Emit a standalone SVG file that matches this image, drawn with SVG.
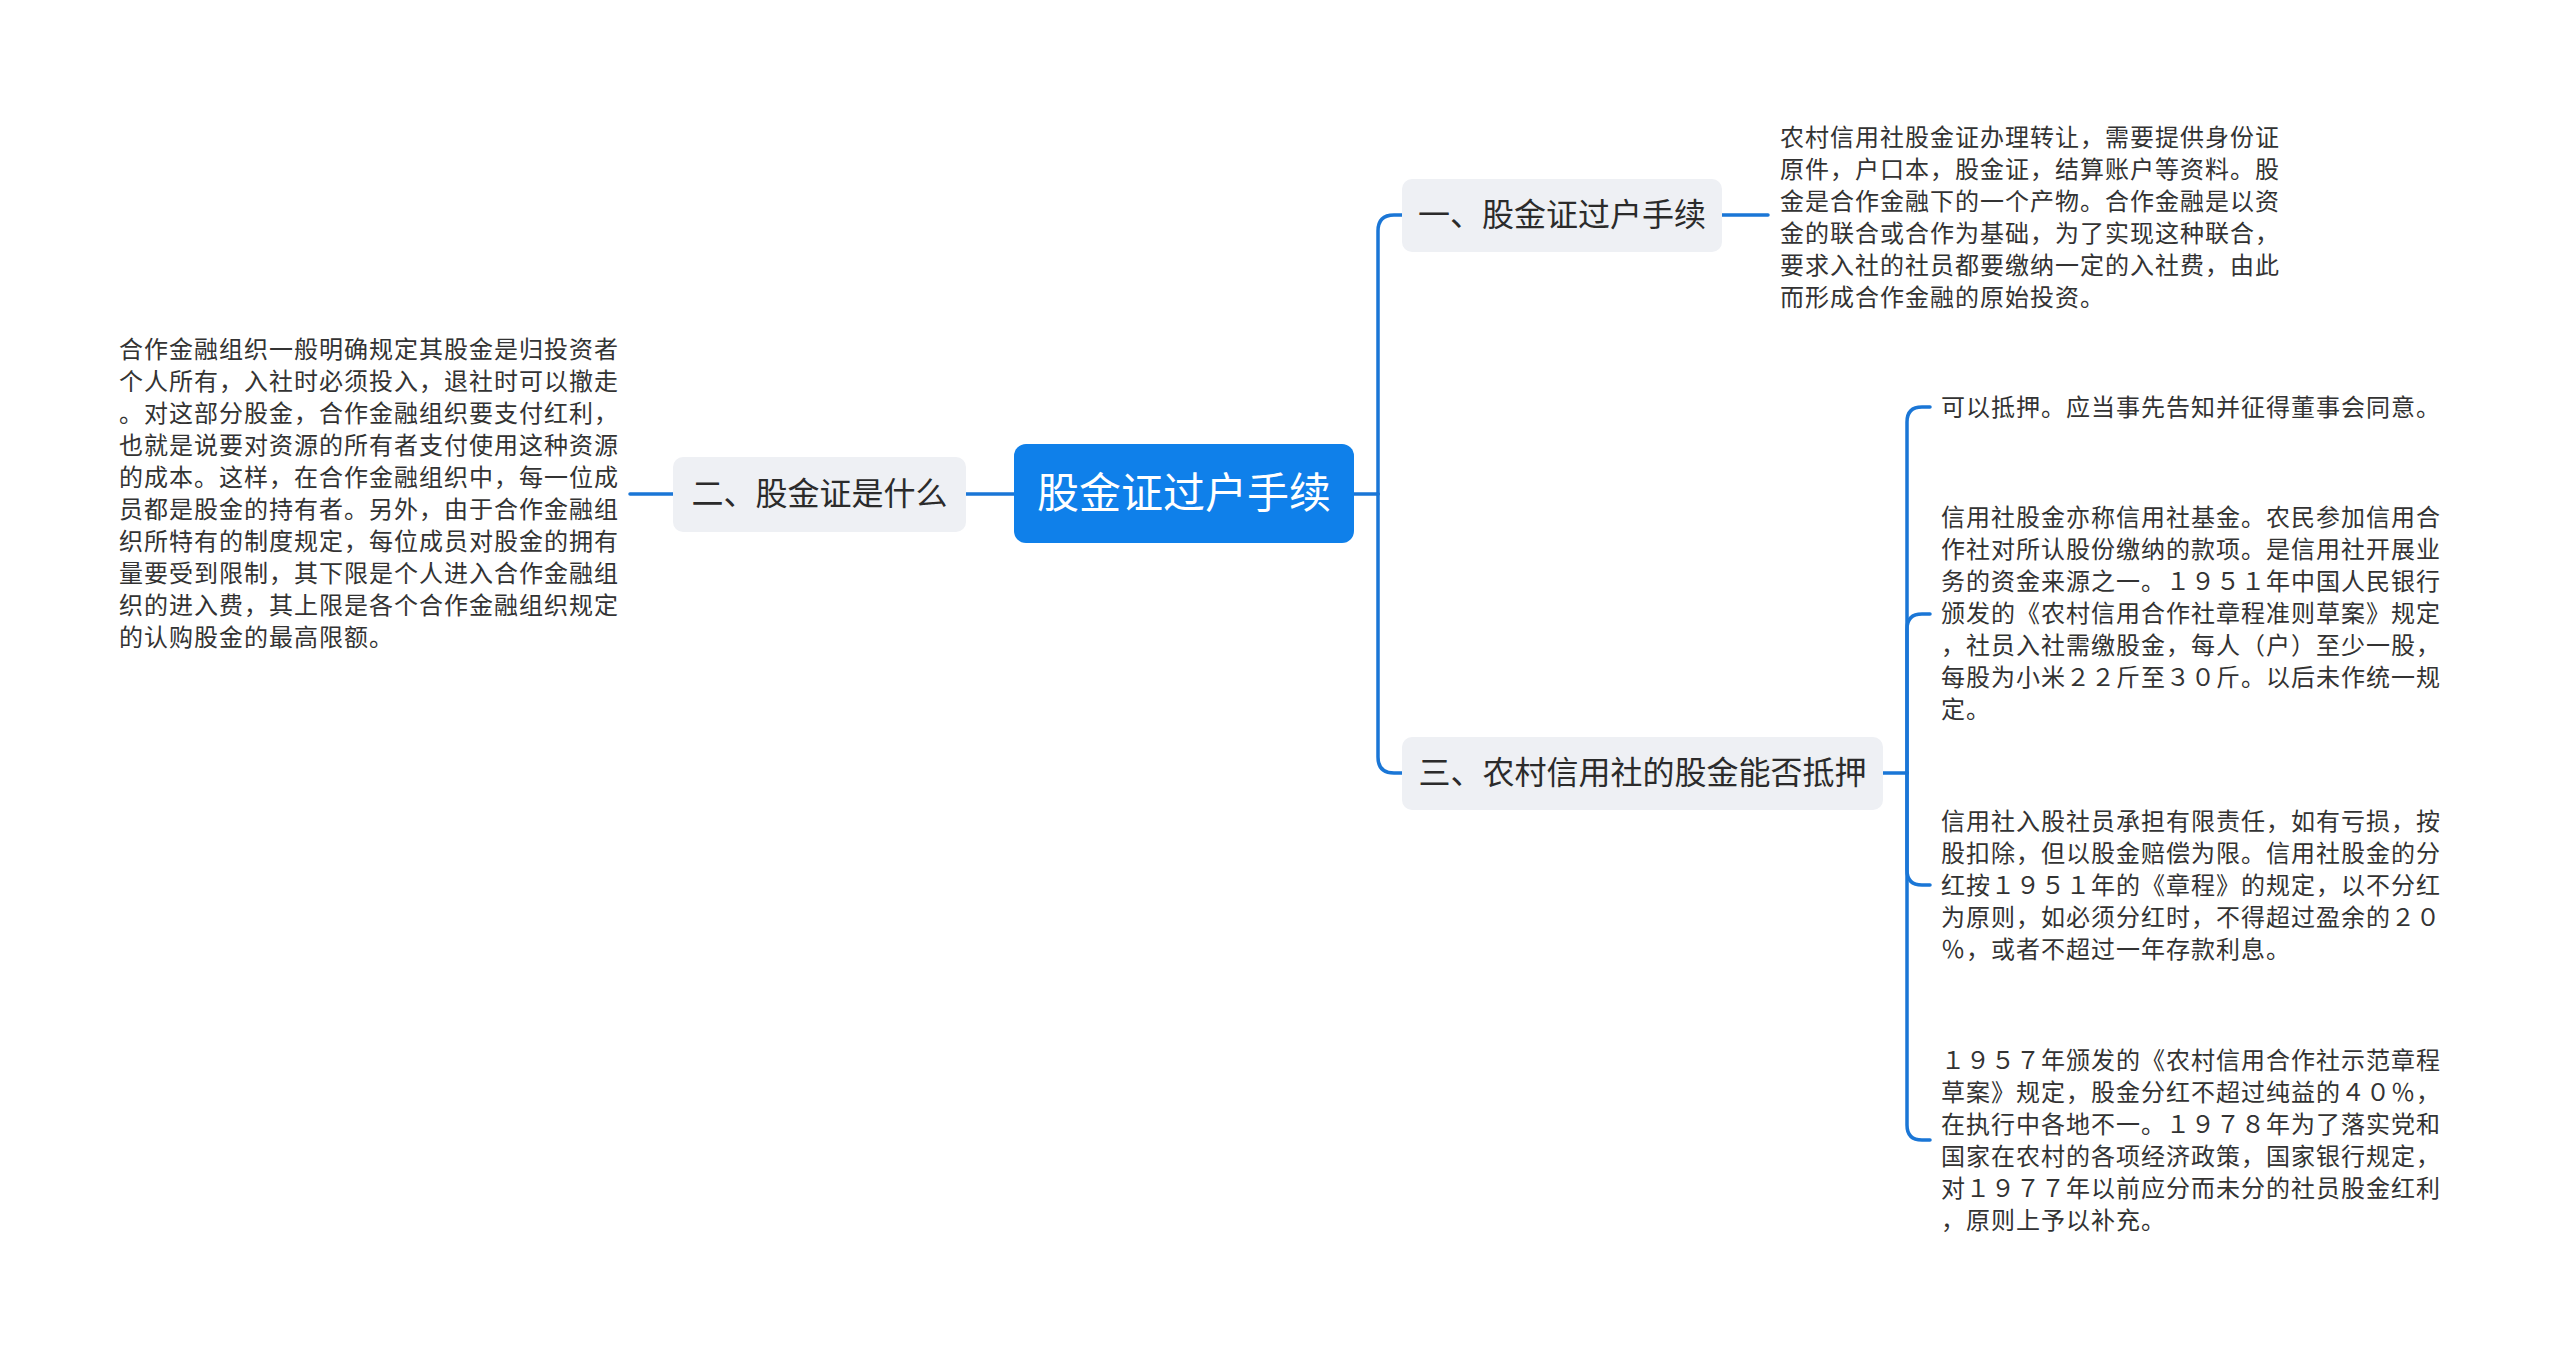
<svg xmlns="http://www.w3.org/2000/svg" width="2560" height="1355" viewBox="0 0 2560 1355">
<style>
.conn{fill:none;stroke:#1a76d6;stroke-width:3.5;stroke-linecap:round}
.sub rect{fill:#eef0f4}
.sub text{font-family:"Noto Sans CJK SC","Noto Sans",sans-serif;font-size:32px;fill:#2b2b2b;text-anchor:middle}
.leaf text{font-family:"Noto Sans CJK SC","Noto Sans",sans-serif;font-size:24px;letter-spacing:1px;fill:#333333}
</style>
<rect width="2560" height="1355" fill="#ffffff"/>
<g id="connectors">
<path class="conn" d="M1014,494 H966"/>
<path class="conn" d="M673,494 H630"/>
<path class="conn" d="M1354,494 H1378"/>
<path class="conn" d="M1378,494 V231 Q1378,215 1394,215 H1402"/>
<path class="conn" d="M1378,494 V757 Q1378,773 1394,773 H1402"/>
<path class="conn" d="M1722,215 H1768"/>
<path class="conn" d="M1883,773 H1907"/>
<path class="conn" d="M1907,773 V422 Q1907,407 1922,407 H1930"/>
<path class="conn" d="M1907,773 V629 Q1907,614 1922,614 H1930"/>
<path class="conn" d="M1907,773 V870 Q1907,885 1922,885 H1930"/>
<path class="conn" d="M1907,773 V1125 Q1907,1140 1922,1140 H1930"/>
</g>
<g id="root">
<rect x="1014" y="444" width="340" height="99" rx="12" fill="#0f80ea"/>
<text x="1184" y="508" font-family="&quot;Noto Sans CJK SC&quot;,&quot;Noto Sans&quot;,sans-serif" font-size="42" fill="#ffffff" text-anchor="middle">股金证过户手续</text>
</g>
<g id="node-2" class="sub">
<rect x="673" y="457" width="293" height="75" rx="10"/>
<text x="819.5" y="505">二、股金证是什么</text>
</g>
<g id="node-1" class="sub">
<rect x="1402" y="179" width="320" height="73" rx="10"/>
<text x="1562" y="226">一、股金证过户手续</text>
</g>
<g id="node-3" class="sub">
<rect x="1402" y="737" width="481" height="73" rx="10"/>
<text x="1642.5" y="784">三、农村信用社的股金能否抵押</text>
</g>
<g id="leaf-2" class="leaf">
<text x="119" y="358">合作金融组织一般明确规定其股金是归投资者</text>
<text x="119" y="390">个人所有，入社时必须投入，退社时可以撤走</text>
<text x="119" y="422">。对这部分股金，合作金融组织要支付红利，</text>
<text x="119" y="454">也就是说要对资源的所有者支付使用这种资源</text>
<text x="119" y="486">的成本。这样，在合作金融组织中，每一位成</text>
<text x="119" y="518">员都是股金的持有者。另外，由于合作金融组</text>
<text x="119" y="550">织所特有的制度规定，每位成员对股金的拥有</text>
<text x="119" y="582">量要受到限制，其下限是个人进入合作金融组</text>
<text x="119" y="614">织的进入费，其上限是各个合作金融组织规定</text>
<text x="119" y="646">的认购股金的最高限额。</text>
</g>
<g id="leaf-1" class="leaf">
<text x="1780" y="146">农村信用社股金证办理转让，需要提供身份证</text>
<text x="1780" y="178">原件，户口本，股金证，结算账户等资料。股</text>
<text x="1780" y="210">金是合作金融下的一个产物。合作金融是以资</text>
<text x="1780" y="242">金的联合或合作为基础，为了实现这种联合，</text>
<text x="1780" y="274">要求入社的社员都要缴纳一定的入社费，由此</text>
<text x="1780" y="306">而形成合作金融的原始投资。</text>
</g>
<g id="leaf-3a" class="leaf">
<text x="1941" y="416">可以抵押。应当事先告知并征得董事会同意。</text>
</g>
<g id="leaf-3b" class="leaf">
<text x="1941" y="526">信用社股金亦称信用社基金。农民参加信用合</text>
<text x="1941" y="558">作社对所认股份缴纳的款项。是信用社开展业</text>
<text x="1941" y="590">务的资金来源之一。１９５１年中国人民银行</text>
<text x="1941" y="622">颁发的《农村信用合作社章程准则草案》规定</text>
<text x="1941" y="654">，社员入社需缴股金，每人（户）至少一股，</text>
<text x="1941" y="686">每股为小米２２斤至３０斤。以后未作统一规</text>
<text x="1941" y="718">定。</text>
</g>
<g id="leaf-3c" class="leaf">
<text x="1941" y="830">信用社入股社员承担有限责任，如有亏损，按</text>
<text x="1941" y="862">股扣除，但以股金赔偿为限。信用社股金的分</text>
<text x="1941" y="894">红按１９５１年的《章程》的规定，以不分红</text>
<text x="1941" y="926">为原则，如必须分红时，不得超过盈余的２０</text>
<text x="1941" y="958">％，或者不超过一年存款利息。</text>
</g>
<g id="leaf-3d" class="leaf">
<text x="1941" y="1069">１９５７年颁发的《农村信用合作社示范章程</text>
<text x="1941" y="1101">草案》规定，股金分红不超过纯益的４０％，</text>
<text x="1941" y="1133">在执行中各地不一。１９７８年为了落实党和</text>
<text x="1941" y="1165">国家在农村的各项经济政策，国家银行规定，</text>
<text x="1941" y="1197">对１９７７年以前应分而未分的社员股金红利</text>
<text x="1941" y="1229">，原则上予以补充。</text>
</g>
</svg>
